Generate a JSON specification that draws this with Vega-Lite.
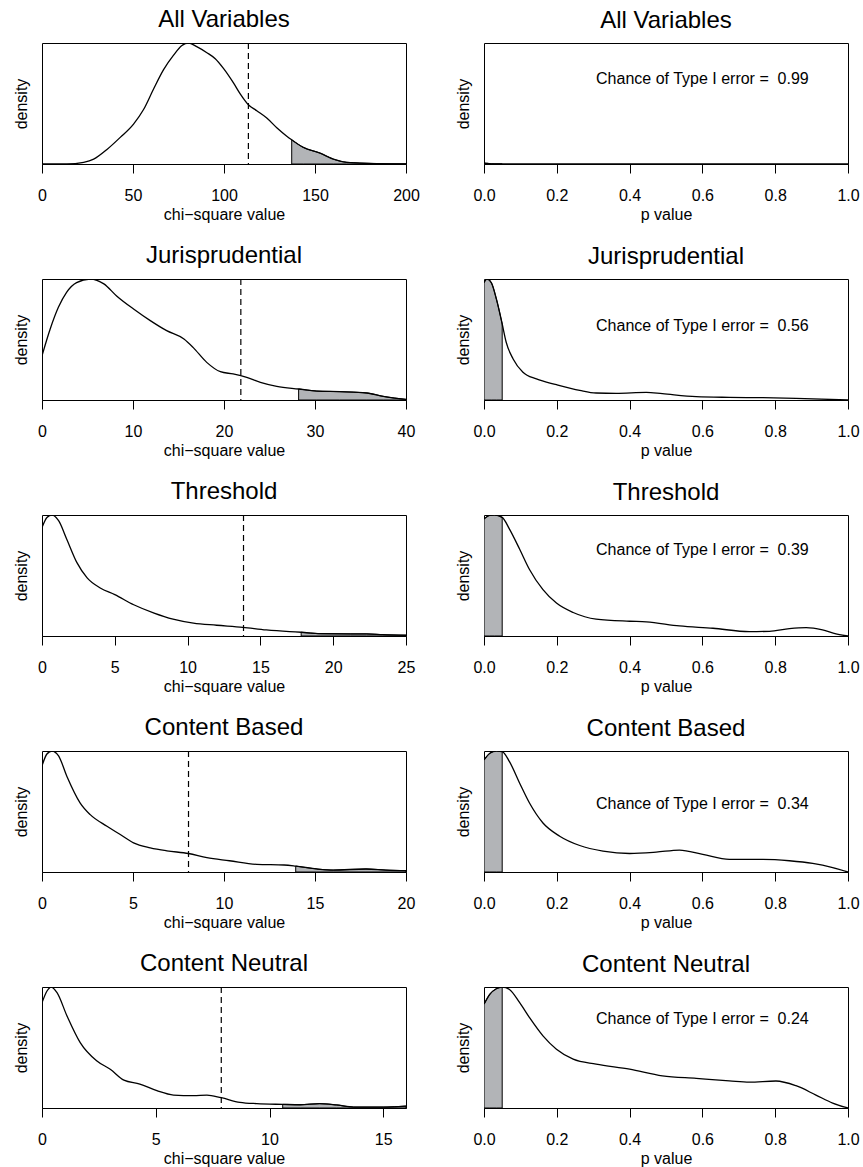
{
  "$schema": "https://vega.github.io/schema/vega-lite/v6.json",
  "padding": {"left": 12, "top": 7, "right": 0, "bottom": 0},
  "columns": 2,
  "spacing": {"row": 115, "column": 78},
  "bounds": "flush",
  "datasets": {
    "chi_all": [{"x":0,"density":0},{"x":13.7,"density":0},{"x":22.9,"density":0.014},{"x":28.4,"density":0.04},{"x":35.7,"density":0.12},{"x":43,"density":0.22},{"x":50.3,"density":0.33},{"x":55.8,"density":0.45},{"x":61.3,"density":0.62},{"x":66.8,"density":0.78},{"x":72.3,"density":0.9},{"x":76.9,"density":0.98},{"x":80.5,"density":1},{"x":85,"density":0.97},{"x":90.6,"density":0.92},{"x":95.2,"density":0.87},{"x":99.7,"density":0.79},{"x":105.2,"density":0.67},{"x":108.9,"density":0.58},{"x":113.4,"density":0.49},{"x":118,"density":0.44},{"x":123.5,"density":0.38},{"x":129,"density":0.3},{"x":134.5,"density":0.23},{"x":137.2,"density":0.2},{"x":143.6,"density":0.137},{"x":152.8,"density":0.09},{"x":160.1,"density":0.04},{"x":167.4,"density":0.014},{"x":174.7,"density":0.008},{"x":183.9,"density":0.003},{"x":200,"density":0}],
    "chi_jur": [{"x":0,"density":0.366},{"x":0.9,"density":0.587},{"x":1.8,"density":0.766},{"x":2.7,"density":0.89},{"x":3.8,"density":0.97},{"x":5.3,"density":1},{"x":6.8,"density":0.96},{"x":8.2,"density":0.86},{"x":10.1,"density":0.75},{"x":11.9,"density":0.656},{"x":13.7,"density":0.573},{"x":15.6,"density":0.504},{"x":16.6,"density":0.435},{"x":18.1,"density":0.311},{"x":19.6,"density":0.234},{"x":21,"density":0.215},{"x":22.5,"density":0.187},{"x":24,"density":0.146},{"x":25.8,"density":0.113},{"x":28.2,"density":0.091},{"x":30.2,"density":0.074},{"x":32.7,"density":0.069},{"x":35.7,"density":0.058},{"x":37.5,"density":0.03},{"x":40,"density":0.005}],
    "chi_thr": [{"x":0,"density":0.897},{"x":0.34,"density":0.98},{"x":0.69,"density":1},{"x":1.14,"density":0.953},{"x":1.7,"density":0.8},{"x":2.4,"density":0.606},{"x":3.1,"density":0.48},{"x":4,"density":0.397},{"x":5,"density":0.342},{"x":6.3,"density":0.258},{"x":7.7,"density":0.189},{"x":9,"density":0.139},{"x":10.4,"density":0.106},{"x":12,"density":0.089},{"x":13.8,"density":0.072},{"x":15.4,"density":0.05},{"x":17,"density":0.036},{"x":17.8,"density":0.031},{"x":19.1,"density":0.019},{"x":21.2,"density":0.017},{"x":22.3,"density":0.017},{"x":23.4,"density":0.011},{"x":25,"density":0.006}],
    "chi_cb": [{"x":0,"density":0.877},{"x":0.27,"density":0.975},{"x":0.55,"density":1},{"x":0.91,"density":0.96},{"x":1.37,"density":0.79},{"x":2.1,"density":0.57},{"x":2.65,"density":0.474},{"x":3.57,"density":0.378},{"x":4.3,"density":0.31},{"x":5.03,"density":0.241},{"x":5.95,"density":0.2},{"x":6.86,"density":0.175},{"x":8.05,"density":0.153},{"x":9.06,"density":0.118},{"x":10.3,"density":0.093},{"x":11.8,"density":0.063},{"x":13.3,"density":0.058},{"x":13.94,"density":0.049},{"x":15.1,"density":0.025},{"x":16,"density":0.016},{"x":17.8,"density":0.025},{"x":18.9,"density":0.016},{"x":20,"density":0.011}],
    "chi_cn": [{"x":0,"density":0.87},{"x":0.22,"density":0.967},{"x":0.4,"density":1},{"x":0.66,"density":0.953},{"x":1.1,"density":0.76},{"x":1.68,"density":0.54},{"x":2.4,"density":0.39},{"x":3,"density":0.32},{"x":3.6,"density":0.23},{"x":4.3,"density":0.198},{"x":5.05,"density":0.143},{"x":5.78,"density":0.107},{"x":6.66,"density":0.102},{"x":7.25,"density":0.107},{"x":7.88,"density":0.085},{"x":8.7,"density":0.047},{"x":9.44,"density":0.036},{"x":10.58,"density":0.03},{"x":11.35,"density":0.027},{"x":12.2,"density":0.036},{"x":12.95,"density":0.025},{"x":13.7,"density":0.008},{"x":15,"density":0.008},{"x":16,"density":0.016}],
    "p_all": [{"x":0,"density":0.008},{"x":0.01,"density":0.005},{"x":0.02,"density":0.001},{"x":0.03,"density":0},{"x":0.05,"density":0},{"x":1,"density":0}],
    "p_jur": [{"x":0,"density":0.97},{"x":0.008,"density":1},{"x":0.02,"density":0.97},{"x":0.034,"density":0.835},{"x":0.05,"density":0.628},{"x":0.061,"density":0.477},{"x":0.08,"density":0.339},{"x":0.107,"density":0.229},{"x":0.144,"density":0.174},{"x":0.199,"density":0.127},{"x":0.263,"density":0.08},{"x":0.308,"density":0.058},{"x":0.363,"density":0.055},{"x":0.446,"density":0.063},{"x":0.49,"density":0.052},{"x":0.583,"density":0.028},{"x":0.674,"density":0.022},{"x":0.766,"density":0.019},{"x":0.857,"density":0.014},{"x":1,"density":0}],
    "p_thr": [{"x":0,"density":0.967},{"x":0.016,"density":0.997},{"x":0.029,"density":1},{"x":0.05,"density":0.98},{"x":0.07,"density":0.883},{"x":0.098,"density":0.717},{"x":0.125,"density":0.55},{"x":0.162,"density":0.383},{"x":0.199,"density":0.272},{"x":0.245,"density":0.194},{"x":0.308,"density":0.139},{"x":0.4,"density":0.122},{"x":0.446,"density":0.117},{"x":0.537,"density":0.083},{"x":0.629,"density":0.064},{"x":0.729,"density":0.036},{"x":0.784,"density":0.039},{"x":0.839,"density":0.061},{"x":0.885,"density":0.069},{"x":0.93,"density":0.05},{"x":0.967,"density":0.017},{"x":1,"density":0}],
    "p_cb": [{"x":0,"density":0.926},{"x":0.016,"density":0.981},{"x":0.034,"density":1},{"x":0.05,"density":0.995},{"x":0.07,"density":0.912},{"x":0.098,"density":0.734},{"x":0.125,"density":0.57},{"x":0.162,"density":0.405},{"x":0.208,"density":0.296},{"x":0.263,"density":0.219},{"x":0.327,"density":0.173},{"x":0.4,"density":0.153},{"x":0.473,"density":0.164},{"x":0.537,"density":0.181},{"x":0.601,"density":0.145},{"x":0.674,"density":0.104},{"x":0.766,"density":0.104},{"x":0.839,"density":0.093},{"x":0.903,"density":0.071},{"x":0.958,"density":0.036},{"x":1,"density":0}],
    "p_cn": [{"x":0,"density":0.857},{"x":0.016,"density":0.94},{"x":0.034,"density":0.986},{"x":0.05,"density":1},{"x":0.07,"density":0.98},{"x":0.098,"density":0.87},{"x":0.125,"density":0.747},{"x":0.162,"density":0.596},{"x":0.199,"density":0.486},{"x":0.245,"density":0.404},{"x":0.308,"density":0.363},{"x":0.4,"density":0.321},{"x":0.49,"density":0.266},{"x":0.583,"density":0.245},{"x":0.674,"density":0.225},{"x":0.729,"density":0.214},{"x":0.802,"density":0.223},{"x":0.857,"density":0.184},{"x":0.912,"density":0.107},{"x":0.958,"density":0.041},{"x":1,"density":0}]
  },
  "concat": [
    {
      "title": "All Variables", "width": 364, "height": 121,
      "layer": [
        {"data": {"name": "chi_all"}, "transform": [{"filter": "datum.x >= 137.2"}],
         "mark": {"type": "area", "clip": true, "color": "#b2b4b7", "stroke": "black", "strokeWidth": 1, "interpolate": "monotone"},
         "encoding": {"x": {"field": "x", "type": "quantitative", "title": "chi−square value", "scale": {"domain": [0, 200], "nice": false, "zero": false}},
                      "y": {"field": "density", "type": "quantitative", "title": "density", "scale": {"domain": [0, 1], "nice": false}}}},
        {"data": {"name": "chi_all"}, "mark": {"type": "line", "clip": true, "color": "black", "strokeWidth": 1.3, "interpolate": "monotone"},
         "encoding": {"x": {"field": "x", "type": "quantitative", "title": "chi−square value"}, "y": {"field": "density", "type": "quantitative", "title": "density"}}},
        {"data": {"values": [{"observed": 113.4}]}, "mark": {"type": "rule", "color": "black", "strokeWidth": 1.2, "strokeDash": [6, 4]},
         "encoding": {"x": {"field": "observed", "type": "quantitative", "title": "chi−square value"}}}
      ]
    },
    {
      "title": "All Variables", "width": 364, "height": 121,
      "layer": [
        {"data": {"name": "p_all"}, "transform": [{"filter": "datum.x <= 0.05"}],
         "mark": {"type": "area", "clip": true, "color": "#b2b4b7", "stroke": "black", "strokeWidth": 1, "interpolate": "monotone"},
         "encoding": {"x": {"field": "x", "type": "quantitative", "title": "p value", "scale": {"domain": [0, 1], "nice": false, "zero": false}, "axis": {"format": ".1f"}},
                      "y": {"field": "density", "type": "quantitative", "title": "density", "scale": {"domain": [0, 1], "nice": false}}}},
        {"data": {"name": "p_all"}, "mark": {"type": "line", "clip": true, "color": "black", "strokeWidth": 1.3, "interpolate": "monotone"},
         "encoding": {"x": {"field": "x", "type": "quantitative", "title": "p value"}, "y": {"field": "density", "type": "quantitative", "title": "density"}}},
        {"data": {"values": [{"label": "Chance of Type I error = \u00a00.99"}]}, "mark": {"type": "text", "fontSize": 16, "color": "black", "align": "center", "baseline": "middle"},
         "encoding": {"x": {"datum": 0.6, "type": "quantitative", "title": "p value"}, "y": {"datum": 0.70, "type": "quantitative", "title": "density"}, "text": {"field": "label"}}}
      ]
    },
    {
      "title": "Jurisprudential", "width": 364, "height": 121,
      "layer": [
        {"data": {"name": "chi_jur"}, "transform": [{"filter": "datum.x >= 28.2"}],
         "mark": {"type": "area", "clip": true, "color": "#b2b4b7", "stroke": "black", "strokeWidth": 1, "interpolate": "monotone"},
         "encoding": {"x": {"field": "x", "type": "quantitative", "title": "chi−square value", "scale": {"domain": [0, 40], "nice": false, "zero": false}},
                      "y": {"field": "density", "type": "quantitative", "title": "density", "scale": {"domain": [0, 1], "nice": false}}}},
        {"data": {"name": "chi_jur"}, "mark": {"type": "line", "clip": true, "color": "black", "strokeWidth": 1.3, "interpolate": "monotone"},
         "encoding": {"x": {"field": "x", "type": "quantitative", "title": "chi−square value"}, "y": {"field": "density", "type": "quantitative", "title": "density"}}},
        {"data": {"values": [{"observed": 21.85}]}, "mark": {"type": "rule", "color": "black", "strokeWidth": 1.2, "strokeDash": [6, 4]},
         "encoding": {"x": {"field": "observed", "type": "quantitative", "title": "chi−square value"}}}
      ]
    },
    {
      "title": "Jurisprudential", "width": 364, "height": 121,
      "layer": [
        {"data": {"name": "p_jur"}, "transform": [{"filter": "datum.x <= 0.05"}],
         "mark": {"type": "area", "clip": true, "color": "#b2b4b7", "stroke": "black", "strokeWidth": 1, "interpolate": "monotone"},
         "encoding": {"x": {"field": "x", "type": "quantitative", "title": "p value", "scale": {"domain": [0, 1], "nice": false, "zero": false}, "axis": {"format": ".1f"}},
                      "y": {"field": "density", "type": "quantitative", "title": "density", "scale": {"domain": [0, 1], "nice": false}}}},
        {"data": {"name": "p_jur"}, "mark": {"type": "line", "clip": true, "color": "black", "strokeWidth": 1.3, "interpolate": "monotone"},
         "encoding": {"x": {"field": "x", "type": "quantitative", "title": "p value"}, "y": {"field": "density", "type": "quantitative", "title": "density"}}},
        {"data": {"values": [{"label": "Chance of Type I error = \u00a00.56"}]}, "mark": {"type": "text", "fontSize": 16, "color": "black", "align": "center", "baseline": "middle"},
         "encoding": {"x": {"datum": 0.6, "type": "quantitative", "title": "p value"}, "y": {"datum": 0.614, "type": "quantitative", "title": "density"}, "text": {"field": "label"}}}
      ]
    },
    {
      "title": "Threshold", "width": 364, "height": 121,
      "layer": [
        {"data": {"name": "chi_thr"}, "transform": [{"filter": "datum.x >= 17.8"}],
         "mark": {"type": "area", "clip": true, "color": "#b2b4b7", "stroke": "black", "strokeWidth": 1, "interpolate": "monotone"},
         "encoding": {"x": {"field": "x", "type": "quantitative", "title": "chi−square value", "scale": {"domain": [0, 25], "nice": false, "zero": false}},
                      "y": {"field": "density", "type": "quantitative", "title": "density", "scale": {"domain": [0, 1], "nice": false}}}},
        {"data": {"name": "chi_thr"}, "mark": {"type": "line", "clip": true, "color": "black", "strokeWidth": 1.3, "interpolate": "monotone"},
         "encoding": {"x": {"field": "x", "type": "quantitative", "title": "chi−square value"}, "y": {"field": "density", "type": "quantitative", "title": "density"}}},
        {"data": {"values": [{"observed": 13.84}]}, "mark": {"type": "rule", "color": "black", "strokeWidth": 1.2, "strokeDash": [6, 4]},
         "encoding": {"x": {"field": "observed", "type": "quantitative", "title": "chi−square value"}}}
      ]
    },
    {
      "title": "Threshold", "width": 364, "height": 121,
      "layer": [
        {"data": {"name": "p_thr"}, "transform": [{"filter": "datum.x <= 0.05"}],
         "mark": {"type": "area", "clip": true, "color": "#b2b4b7", "stroke": "black", "strokeWidth": 1, "interpolate": "monotone"},
         "encoding": {"x": {"field": "x", "type": "quantitative", "title": "p value", "scale": {"domain": [0, 1], "nice": false, "zero": false}, "axis": {"format": ".1f"}},
                      "y": {"field": "density", "type": "quantitative", "title": "density", "scale": {"domain": [0, 1], "nice": false}}}},
        {"data": {"name": "p_thr"}, "mark": {"type": "line", "clip": true, "color": "black", "strokeWidth": 1.3, "interpolate": "monotone"},
         "encoding": {"x": {"field": "x", "type": "quantitative", "title": "p value"}, "y": {"field": "density", "type": "quantitative", "title": "density"}}},
        {"data": {"values": [{"label": "Chance of Type I error = \u00a00.39"}]}, "mark": {"type": "text", "fontSize": 16, "color": "black", "align": "center", "baseline": "middle"},
         "encoding": {"x": {"datum": 0.6, "type": "quantitative", "title": "p value"}, "y": {"datum": 0.707, "type": "quantitative", "title": "density"}, "text": {"field": "label"}}}
      ]
    },
    {
      "title": "Content Based", "width": 364, "height": 121,
      "layer": [
        {"data": {"name": "chi_cb"}, "transform": [{"filter": "datum.x >= 13.94"}],
         "mark": {"type": "area", "clip": true, "color": "#b2b4b7", "stroke": "black", "strokeWidth": 1, "interpolate": "monotone"},
         "encoding": {"x": {"field": "x", "type": "quantitative", "title": "chi−square value", "scale": {"domain": [0, 20], "nice": false, "zero": false}},
                      "y": {"field": "density", "type": "quantitative", "title": "density", "scale": {"domain": [0, 1], "nice": false}}}},
        {"data": {"name": "chi_cb"}, "mark": {"type": "line", "clip": true, "color": "black", "strokeWidth": 1.3, "interpolate": "monotone"},
         "encoding": {"x": {"field": "x", "type": "quantitative", "title": "chi−square value"}, "y": {"field": "density", "type": "quantitative", "title": "density"}}},
        {"data": {"values": [{"observed": 8.05}]}, "mark": {"type": "rule", "color": "black", "strokeWidth": 1.2, "strokeDash": [6, 4]},
         "encoding": {"x": {"field": "observed", "type": "quantitative", "title": "chi−square value"}}}
      ]
    },
    {
      "title": "Content Based", "width": 364, "height": 121,
      "layer": [
        {"data": {"name": "p_cb"}, "transform": [{"filter": "datum.x <= 0.05"}],
         "mark": {"type": "area", "clip": true, "color": "#b2b4b7", "stroke": "black", "strokeWidth": 1, "interpolate": "monotone"},
         "encoding": {"x": {"field": "x", "type": "quantitative", "title": "p value", "scale": {"domain": [0, 1], "nice": false, "zero": false}, "axis": {"format": ".1f"}},
                      "y": {"field": "density", "type": "quantitative", "title": "density", "scale": {"domain": [0, 1], "nice": false}}}},
        {"data": {"name": "p_cb"}, "mark": {"type": "line", "clip": true, "color": "black", "strokeWidth": 1.3, "interpolate": "monotone"},
         "encoding": {"x": {"field": "x", "type": "quantitative", "title": "p value"}, "y": {"field": "density", "type": "quantitative", "title": "density"}}},
        {"data": {"values": [{"label": "Chance of Type I error = \u00a00.34"}]}, "mark": {"type": "text", "fontSize": 16, "color": "black", "align": "center", "baseline": "middle"},
         "encoding": {"x": {"datum": 0.6, "type": "quantitative", "title": "p value"}, "y": {"datum": 0.56, "type": "quantitative", "title": "density"}, "text": {"field": "label"}}}
      ]
    },
    {
      "title": "Content Neutral", "width": 364, "height": 121,
      "layer": [
        {"data": {"name": "chi_cn"}, "transform": [{"filter": "datum.x >= 10.58"}],
         "mark": {"type": "area", "clip": true, "color": "#b2b4b7", "stroke": "black", "strokeWidth": 1, "interpolate": "monotone"},
         "encoding": {"x": {"field": "x", "type": "quantitative", "title": "chi−square value", "scale": {"domain": [0, 16], "nice": false, "zero": false}},
                      "y": {"field": "density", "type": "quantitative", "title": "density", "scale": {"domain": [0, 1], "nice": false}}}},
        {"data": {"name": "chi_cn"}, "mark": {"type": "line", "clip": true, "color": "black", "strokeWidth": 1.3, "interpolate": "monotone"},
         "encoding": {"x": {"field": "x", "type": "quantitative", "title": "chi−square value"}, "y": {"field": "density", "type": "quantitative", "title": "density"}}},
        {"data": {"values": [{"observed": 7.88}]}, "mark": {"type": "rule", "color": "black", "strokeWidth": 1.2, "strokeDash": [6, 4]},
         "encoding": {"x": {"field": "observed", "type": "quantitative", "title": "chi−square value"}}}
      ]
    },
    {
      "title": "Content Neutral", "width": 364, "height": 121,
      "layer": [
        {"data": {"name": "p_cn"}, "transform": [{"filter": "datum.x <= 0.05"}],
         "mark": {"type": "area", "clip": true, "color": "#b2b4b7", "stroke": "black", "strokeWidth": 1, "interpolate": "monotone"},
         "encoding": {"x": {"field": "x", "type": "quantitative", "title": "p value", "scale": {"domain": [0, 1], "nice": false, "zero": false}, "axis": {"format": ".1f"}},
                      "y": {"field": "density", "type": "quantitative", "title": "density", "scale": {"domain": [0, 1], "nice": false}}}},
        {"data": {"name": "p_cn"}, "mark": {"type": "line", "clip": true, "color": "black", "strokeWidth": 1.3, "interpolate": "monotone"},
         "encoding": {"x": {"field": "x", "type": "quantitative", "title": "p value"}, "y": {"field": "density", "type": "quantitative", "title": "density"}}},
        {"data": {"values": [{"label": "Chance of Type I error = \u00a00.24"}]}, "mark": {"type": "text", "fontSize": 16, "color": "black", "align": "center", "baseline": "middle"},
         "encoding": {"x": {"datum": 0.6, "type": "quantitative", "title": "p value"}, "y": {"datum": 0.736, "type": "quantitative", "title": "density"}, "text": {"field": "label"}}}
      ]
    }
  ],
  "config": {
    "font": "Liberation Sans",
    "background": "white",
    "view": {"stroke": "black", "strokeWidth": 1},
    "title": {"fontSize": 24, "fontWeight": "normal", "color": "black", "font": "Liberation Sans", "offset": 10, "baseline": "alphabetic", "frame": "group", "anchor": "middle"},
    "text": {"font": "Liberation Sans"},
    "axis": {"grid": false, "labelFont": "Liberation Sans", "titleFont": "Liberation Sans", "labelFontSize": 16, "titleFontSize": 16, "titleFontWeight": "normal", "labelColor": "black", "titleColor": "black", "tickColor": "black", "domainColor": "black"},
    "axisX": {"tickSize": 9, "labelPadding": 14, "titlePadding": 3, "labelFlush": false, "labelOverlap": false, "tickCount": 5, "domainWidth": 1, "tickWidth": 1},
    "axisY": {"labels": false, "ticks": false, "domain": false, "titlePadding": 13}
  }
}
